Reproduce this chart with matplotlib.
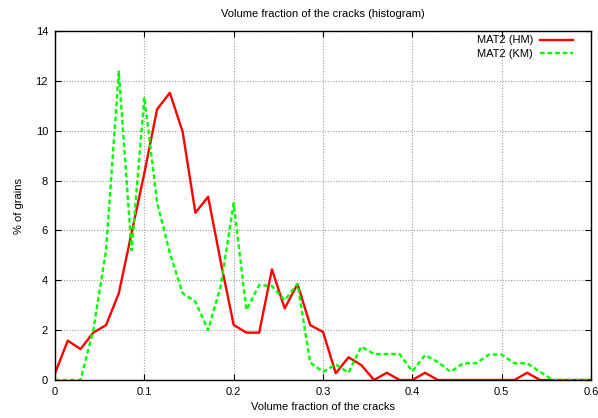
import numpy as np
import matplotlib
matplotlib.use("Agg")
import matplotlib.pyplot as plt

# bin centres: 43 points, 0 .. 0.6
n_bins = 43
x = np.linspace(0.0, 0.6, n_bins)

hm_values = [
    0.27, 1.58, 1.24, 1.9, 2.2, 3.48, 5.9, 8.3, 10.86, 11.52,
    9.96, 6.71, 7.35, 4.7, 2.21, 1.9, 1.9, 4.44, 2.87, 3.85,
    2.2, 1.93, 0.27, 0.91, 0.6, 0.0, 0.29, 0.0, 0.0, 0.29,
    0.0, 0.0, 0.0, 0.0, 0.0, 0.0, 0.0, 0.29, 0.0, 0.0,
    0.0, 0.0, 0.0,
]
km_values = [
    0.0, 0.0, 0.0, 2.0, 5.2, 12.37, 5.2, 11.35, 7.12, 5.1,
    3.48, 3.14, 2.0, 3.8, 7.09, 2.81, 3.81, 3.77, 3.2, 3.85,
    0.7, 0.33, 0.62, 0.3, 1.34, 1.04, 1.04, 1.04, 0.35, 1.0,
    0.72, 0.33, 0.67, 0.67, 1.02, 1.02, 0.67, 0.67, 0.33, 0.0,
    0.0, 0.0, 0.0,
]

series_labels = ["MAT2 (HM)", "MAT2 (KM)"]
x_ticks = [0, 0.1, 0.2, 0.3, 0.4, 0.5, 0.6]
x_tick_labels = ["0", "0.1", "0.2", "0.3", "0.4", "0.5", "0.6"]
y_ticks = [0, 2, 4, 6, 8, 10, 12, 14]

plt.rcParams["font.family"] = ["Liberation Sans", "DejaVu Sans"]

fig = plt.figure(figsize=(5.98, 4.18), dpi=100)
ax = fig.add_axes([55 / 598, 1 - 380 / 418, 536 / 598, 349 / 418])

ax.plot(x, hm_values, color="#ff0000", lw=1.7, label=series_labels[0])
ax.plot(x, km_values, color="#00ff00", lw=1.7, dashes=(2, 1.2), label=series_labels[1])

ax.set_xlim(0, 0.6)
ax.set_ylim(0, 14)
ax.set_xticks(x_ticks)
ax.set_xticklabels(x_tick_labels)
ax.set_yticks(y_ticks)

ax.grid(True, color="#a0a0a0", linestyle=(0, (1, 1.5)), lw=0.8)
ax.tick_params(direction="in", top=True, right=True, length=4, width=0.8,
               labelsize=8, pad=5, colors="black")
for spine in ax.spines.values():
    spine.set_linewidth(1.0)

ax.set_title("Volume fraction of the cracks (histogram)", fontsize=8, pad=10)
ax.set_xlabel("Volume fraction of the cracks", fontsize=8, labelpad=4)
ax.set_ylabel("% of grains", fontsize=8, labelpad=8)

leg = ax.legend(loc="upper right", bbox_to_anchor=(0.975, 1.0), frameon=False,
                markerfirst=False, fontsize=8, handlelength=3.0, handletextpad=0.6,
                labelspacing=0.32, borderaxespad=0.0)

fig.savefig("out.png", dpi=100)
